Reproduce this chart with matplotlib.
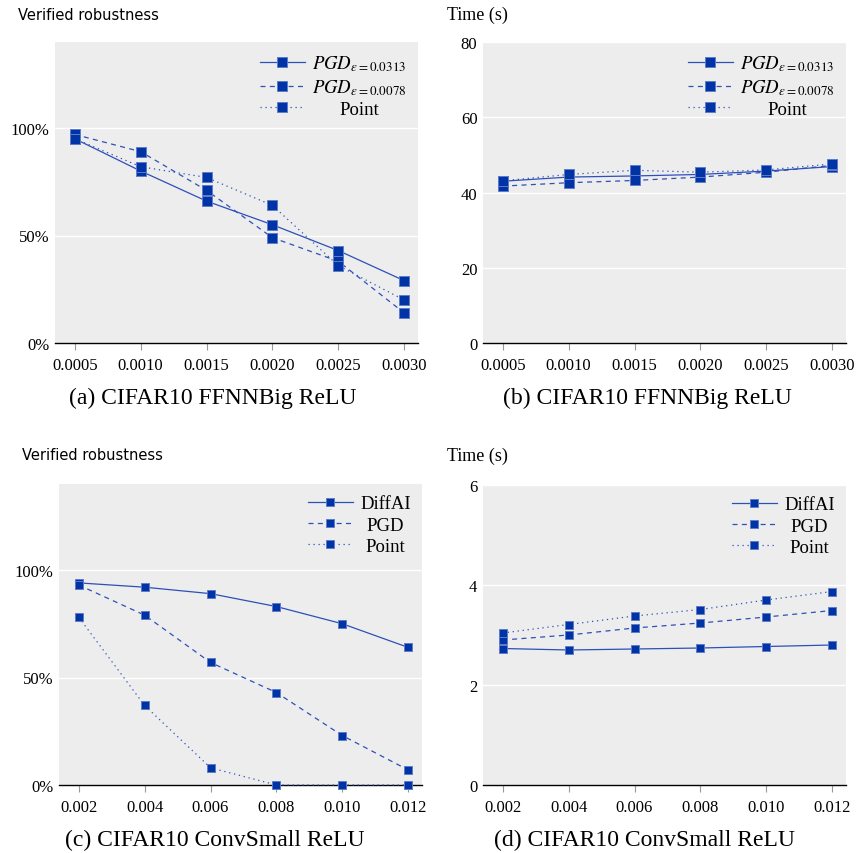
import matplotlib
matplotlib.use("Agg")
import matplotlib.pyplot as plt

plt.rcParams["font.family"] = ["Liberation Serif", "DejaVu Serif"]
plt.rcParams["mathtext.fontset"] = "stix"

# panel (a) / (b): CIFAR10 FFNNBig ReLU
eps_big = [0.0005, 0.0010, 0.0015, 0.0020, 0.0025, 0.0030]
big_labels = [r"$PGD_{\epsilon=0.0313}$", r"$PGD_{\epsilon=0.0078}$", "Point"]
big_rob_pgd0313 = [95, 80, 66, 55, 43, 29]
big_rob_pgd0078 = [97, 89, 71, 49, 38, 14]
big_rob_point = [95, 82, 77, 64, 36, 20]
big_time_pgd0313 = [43.0, 44.1, 44.4, 44.8, 45.7, 46.9]
big_time_pgd0078 = [41.7, 42.6, 43.2, 44.1, 45.4, 47.2]
big_time_point = [43.1, 44.8, 45.9, 45.4, 46.0, 47.6]

# panel (c) / (d): CIFAR10 ConvSmall ReLU
eps_small = [0.002, 0.004, 0.006, 0.008, 0.010, 0.012]
small_labels = ["DiffAI", "PGD", "Point"]
small_rob_diffai = [94, 92, 89, 83, 75, 64]
small_rob_pgd = [93, 79, 57, 43, 23, 7]
small_rob_point = [78, 37, 8, 0, 0, 0]
small_time_diffai = [2.73, 2.70, 2.72, 2.74, 2.77, 2.80]
small_time_pgd = [2.90, 3.00, 3.14, 3.24, 3.36, 3.49]
small_time_point = [3.04, 3.21, 3.38, 3.51, 3.70, 3.87]

LINE = "#2d50b9"
MARK = "#0033a6"
EDGE = "#5f7cc9"
BG = "#ededed"
styles = ["-", (0, (4, 3.5)), (0, (1, 3))]


def style_axes(ax, xs, ylim, yticks, yticklabels, xfmt):
    ax.set_facecolor(BG)
    for s in ["top", "right", "left"]:
        ax.spines[s].set_visible(False)
    ax.spines["bottom"].set_color("black")
    ax.spines["bottom"].set_linewidth(1.0)
    ax.set_ylim(*ylim)
    ax.set_yticks(yticks)
    ax.set_yticklabels(yticklabels)
    ax.set_xticks(xs)
    ax.set_xticklabels([xfmt.format(x) for x in xs])
    step = xs[1] - xs[0]
    ax.set_xlim(xs[0] - 0.3 * step, xs[-1] + 0.21 * step)
    ax.tick_params(axis="y", length=0, labelsize=12, pad=4)
    ax.tick_params(axis="x", length=5, color="#999999", width=0.8,
                   labelsize=12, pad=5)
    ax.grid(axis="y", color="white", linewidth=1.0)
    ax.set_axisbelow(True)


def plot_panel(ax, xs, series, labels, ms):
    for ys, ls, lab in zip(series, styles, labels):
        ax.plot(xs, ys, linestyle=ls, color=LINE, linewidth=0.9,
                marker="s", markersize=ms, markerfacecolor=MARK,
                markeredgecolor=EDGE, markeredgewidth=0.7, label=lab,
                clip_on=False, zorder=3)
    leg = ax.legend(loc="upper right", frameon=False, fontsize=13.5,
                    handlelength=2.4, handletextpad=0.4, labelspacing=0.22,
                    borderaxespad=0.2, bbox_to_anchor=(1.0, 1.0))
    return leg


def center_legend_texts(leg):
    # pgfplots centres the legend entries; shift the shorter ones over
    renderer = fig.canvas.get_renderer()
    texts = leg.get_texts()
    widths = [t.get_window_extent(renderer).width for t in texts]
    wmax = max(widths)
    for t, w in zip(texts, widths):
        t.set_x((wmax - w) / 2)


fig = plt.figure(figsize=(8.59, 8.54), dpi=100)
W, H = 859, 854


def add_ax(left, top, right, bottom):
    return fig.add_axes([left / W, 1 - bottom / H, (right - left) / W,
                         (bottom - top) / H])


ax_a = add_ax(55, 43, 418, 344)
ax_b = add_ax(483, 43, 846, 344)
ax_c = add_ax(59, 485, 422, 786)
ax_d = add_ax(483, 486, 846, 786)

legends = []
legends.append(plot_panel(ax_a, eps_big,
                          [big_rob_pgd0313, big_rob_pgd0078, big_rob_point],
                          big_labels, 6.8))
style_axes(ax_a, eps_big, (0, 140), [0, 50, 100], ["0%", "50%", "100%"],
           "{:.4f}")

legends.append(plot_panel(ax_b, eps_big,
                          [big_time_pgd0313, big_time_pgd0078, big_time_point],
                          big_labels, 6.8))
style_axes(ax_b, eps_big, (0, 80), [0, 20, 40, 60, 80],
           ["0", "20", "40", "60", "80"], "{:.4f}")

legends.append(plot_panel(ax_c, eps_small,
                          [small_rob_diffai, small_rob_pgd, small_rob_point],
                          small_labels, 6.3))
style_axes(ax_c, eps_small, (0, 140), [0, 50, 100], ["0%", "50%", "100%"],
           "{:.3f}")

legends.append(plot_panel(ax_d, eps_small,
                          [small_time_diffai, small_time_pgd, small_time_point],
                          small_labels, 5.8))
style_axes(ax_d, eps_small, (0, 6), [0, 2, 4, 6], ["0", "2", "4", "6"],
           "{:.3f}")

# axis titles above each panel
fig.text(18 / W, 1 - 15 / H, "Verified robustness", family="DejaVu Sans",
         fontsize=10.5, va="center", ha="left")
fig.text(447 / W, 1 - 15 / H, "Time (s)", fontsize=13, va="center", ha="left")
fig.text(22 / W, 1 - 456 / H, "Verified robustness", family="DejaVu Sans",
         fontsize=10.5, va="center", ha="left")
fig.text(447 / W, 1 - 456 / H, "Time (s)", fontsize=13, va="center", ha="left")

# captions
fig.text(213 / W, 1 - 398 / H, "(a) CIFAR10 FFNNBig ReLU", fontsize=17,
         ha="center", va="center")
fig.text(647 / W, 1 - 398 / H, "(b) CIFAR10 FFNNBig ReLU", fontsize=17,
         ha="center", va="center")
fig.text(215 / W, 1 - 840 / H, "(c) CIFAR10 ConvSmall ReLU", fontsize=17,
         ha="center", va="center")
fig.text(644 / W, 1 - 840 / H, "(d) CIFAR10 ConvSmall ReLU", fontsize=17,
         ha="center", va="center")

fig.canvas.draw()
for leg in legends:
    center_legend_texts(leg)

fig.savefig("out.png", dpi=100)
